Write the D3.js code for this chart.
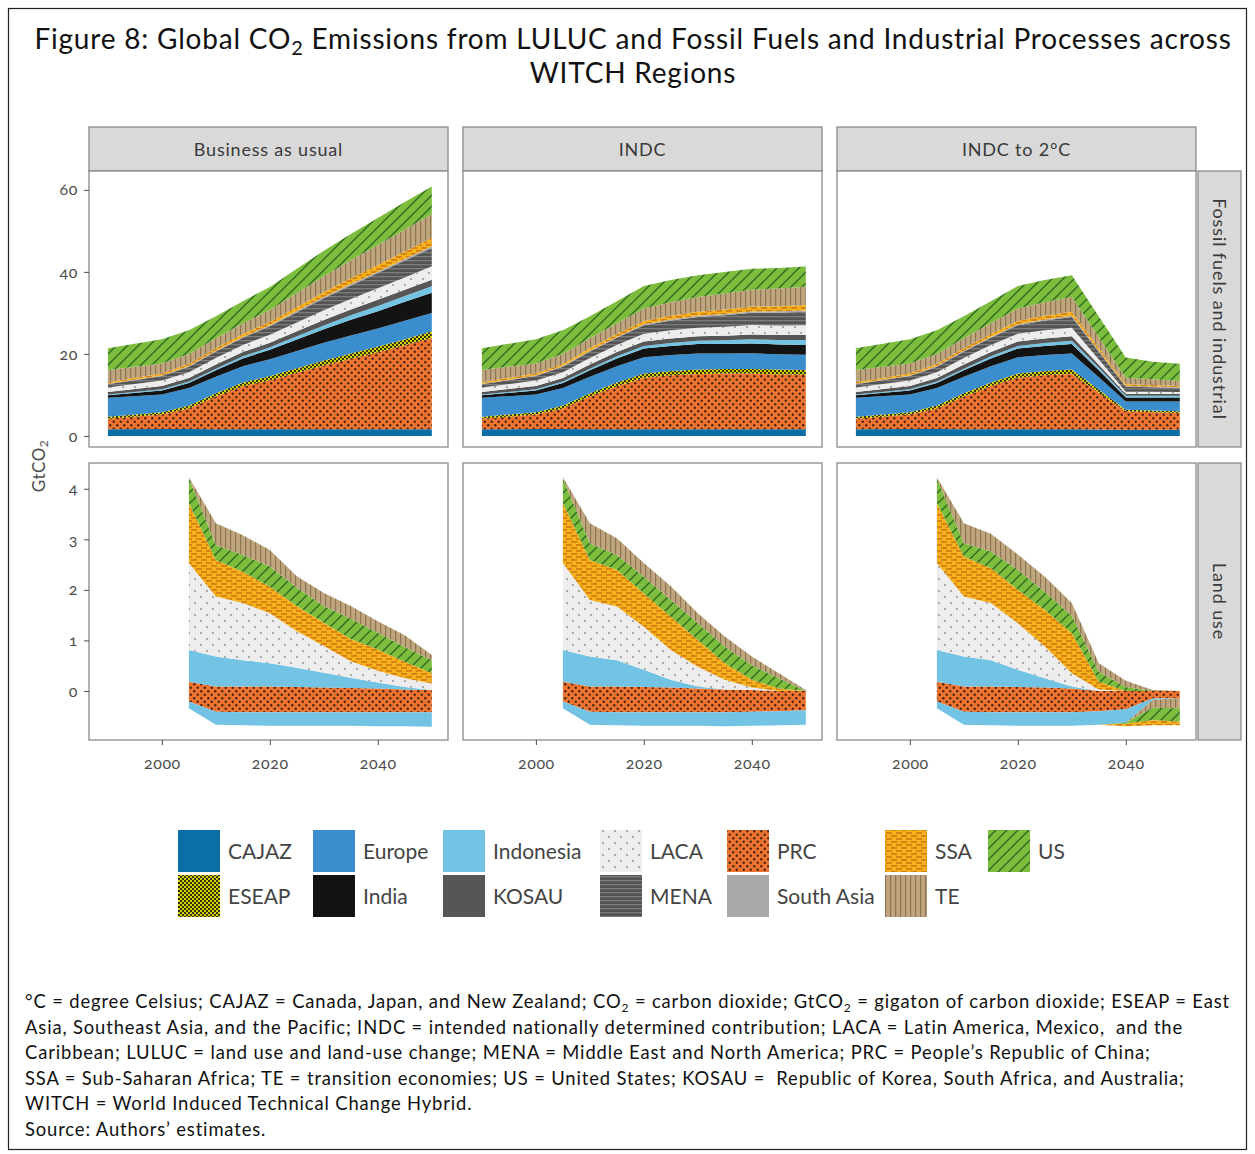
<!DOCTYPE html>
<html><head><meta charset="utf-8">
<script src="https://cdn.jsdelivr.net/npm/d3@7"></script>
<style>
body{margin:0;background:#fff}
svg{display:block}
text{font-family:Lato,"Open Sans","DejaVu Sans",sans-serif}
.num{font-variant-numeric:oldstyle-nums}
.pre{white-space:pre}
</style>
</head><body>
<svg id="c" width="1255" height="1154"></svg>
<script>
// ---------------- DATA ----------------
const years = [1990, 2000, 2005, 2010, 2015, 2020, 2025, 2030, 2035, 2040, 2045, 2050];
const luYears = [2005, 2010, 2015, 2020, 2025, 2030, 2035, 2040, 2045, 2050];
const regions = ["CAJAZ","ESEAP","Europe","India","Indonesia","KOSAU","LACA","MENA","PRC","South Asia","SSA","TE","US"];
const fossilStackOrder = ["CAJAZ","PRC","ESEAP","Europe","India","Indonesia","KOSAU","LACA","MENA","South Asia","SSA","TE","US"];
const luEmitOrder = ["PRC","Indonesia","LACA","SSA","US","TE"];
const luRemoveOrder = ["PRC","Indonesia","TE","US","SSA"];
const scenarios = ["Business as usual","INDC","INDC to 2°C"];
const rowLabels = ["Fossil fuels and industrial","Land use"];
const fossilTicks = [0, 20, 40, 60];
const landTicks = [0, 1, 2, 3, 4];
const xTicks = [2000, 2020, 2040];

// Fossil fuels and industrial, GtCO2 (one value per entry of `years`)
const ffBAU = {
  "CAJAZ":      [1.6,1.7,1.7,1.6,1.6,1.6,1.6,1.6,1.6,1.6,1.6,1.6],
  "PRC":        [2.6,3.5,5.0,8.0,10.5,12.0,13.8,15.6,17.2,18.8,20.5,22.3],
  "ESEAP":      [0.5,0.6,0.7,0.8,0.9,1.0,1.1,1.2,1.3,1.4,1.5,1.6],
  "Europe":     [4.6,4.3,4.3,4.0,4.0,4.1,4.2,4.3,4.4,4.4,4.5,4.5],
  "India":      [0.6,1.0,1.2,1.6,1.9,2.3,2.8,3.3,3.8,4.2,4.6,4.9],
  "Indonesia":  [0.2,0.3,0.35,0.4,0.5,0.6,0.8,0.9,1.1,1.3,1.4,1.6],
  "KOSAU":      [0.6,0.8,0.9,1.0,1.05,1.15,1.25,1.35,1.4,1.5,1.55,1.6],
  "LACA":       [1.1,1.3,1.4,1.6,1.7,1.9,2.1,2.4,2.6,2.8,3.0,3.25],
  "MENA":       [0.8,1.1,1.3,1.6,1.8,2.1,2.5,2.9,3.3,3.7,4.1,4.5],
  "South Asia": [0.1,0.15,0.2,0.2,0.2,0.25,0.3,0.3,0.35,0.35,0.4,0.4],
  "SSA":        [0.4,0.5,0.5,0.6,0.7,0.8,1.0,1.2,1.4,1.6,1.8,2.0],
  "TE":         [3.0,2.4,2.4,2.4,2.6,2.9,3.4,3.9,4.4,4.9,5.4,5.8],
  "US":         [5.3,5.9,5.8,5.4,5.4,5.6,5.9,6.2,6.4,6.6,6.7,6.8]
};
const ffINDC = {
  "CAJAZ":      [1.6,1.7,1.7,1.6,1.6,1.6,1.6,1.6,1.6,1.6,1.6,1.6],
  "PRC":        [2.6,3.5,5.0,8.0,10.5,12.6,13.2,13.5,13.6,13.6,13.4,13.3],
  "ESEAP":      [0.5,0.6,0.7,0.8,0.9,1.0,1.05,1.1,1.1,1.15,1.2,1.2],
  "Europe":     [4.6,4.3,4.3,4.0,4.0,4.0,3.9,3.9,3.8,3.8,3.7,3.7],
  "India":      [0.6,1.0,1.2,1.6,1.9,2.1,2.2,2.3,2.3,2.4,2.4,2.4],
  "Indonesia":  [0.2,0.3,0.35,0.4,0.5,0.6,0.7,0.8,0.9,1.0,1.1,1.2],
  "KOSAU":      [0.6,0.8,0.9,1.0,1.05,1.1,1.1,1.1,1.15,1.2,1.2,1.2],
  "LACA":       [1.1,1.3,1.4,1.6,1.7,1.9,2.0,2.1,2.2,2.3,2.3,2.4],
  "MENA":       [0.8,1.1,1.3,1.6,1.8,2.1,2.4,2.6,2.8,3.0,3.2,3.3],
  "South Asia": [0.1,0.15,0.2,0.2,0.2,0.25,0.25,0.3,0.3,0.3,0.3,0.3],
  "SSA":        [0.4,0.5,0.5,0.6,0.7,0.8,0.9,1.0,1.1,1.2,1.25,1.3],
  "TE":         [3.0,2.4,2.4,2.4,2.6,3.0,3.3,3.6,3.9,4.1,4.3,4.5],
  "US":         [5.3,5.9,5.8,5.4,5.4,5.5,5.4,5.3,5.2,5.1,5.0,4.9]
};
const ff2C = {
  "CAJAZ":      [1.6,1.7,1.7,1.6,1.6,1.6,1.6,1.6,1.55,1.5,1.5,1.5],
  "PRC":        [2.6,3.5,5.0,8.0,10.5,12.6,13.2,13.5,9.0,4.5,4.3,4.1],
  "ESEAP":      [0.5,0.6,0.7,0.8,0.9,1.0,1.05,1.1,0.75,0.4,0.4,0.4],
  "Europe":     [4.6,4.3,4.3,4.0,4.0,4.0,3.9,3.9,3.0,2.0,2.2,2.4],
  "India":      [0.6,1.0,1.2,1.6,1.9,2.1,2.2,2.3,1.7,1.0,1.0,1.0],
  "Indonesia":  [0.2,0.3,0.35,0.4,0.5,0.6,0.7,0.8,0.6,0.4,0.4,0.4],
  "KOSAU":      [0.6,0.8,0.9,1.0,1.05,1.1,1.1,1.1,0.75,0.4,0.45,0.5],
  "LACA":       [1.1,1.3,1.4,1.6,1.7,1.9,2.0,2.1,1.3,0.6,0.5,0.4],
  "MENA":       [0.8,1.1,1.3,1.6,1.8,2.1,2.4,2.6,1.9,1.2,1.1,1.0],
  "South Asia": [0.1,0.15,0.2,0.2,0.2,0.25,0.25,0.3,0.25,0.2,0.2,0.2],
  "SSA":        [0.4,0.5,0.5,0.6,0.7,0.8,0.9,1.0,0.65,0.4,0.35,0.3],
  "TE":         [3.0,2.4,2.4,2.4,2.6,3.0,3.3,3.6,2.6,1.6,1.4,1.2],
  "US":         [5.3,5.9,5.8,5.4,5.4,5.5,5.4,5.3,5.1,4.9,4.3,4.2]
};

// Land use, GtCO2 (one value per entry of `luYears`): emissions (>=0) and removals (<=0)
const luBAUemit = {
  "PRC":       [0.18,0.09,0.09,0.09,0.08,0.07,0.06,0.05,0.03,0.02],
  "Indonesia": [0.63,0.59,0.52,0.46,0.38,0.29,0.20,0.12,0.05,0.00],
  "LACA":      [1.72,1.19,1.13,0.99,0.72,0.53,0.33,0.23,0.17,0.13],
  "SSA":       [1.19,0.72,0.62,0.52,0.50,0.46,0.44,0.42,0.33,0.20],
  "US":        [0.49,0.30,0.33,0.40,0.36,0.33,0.40,0.33,0.29,0.26],
  "TE":        [0.02,0.43,0.39,0.33,0.23,0.26,0.25,0.23,0.23,0.10]
};
const luBAUremove = {
  "PRC":       [-0.21,-0.41,-0.42,-0.42,-0.42,-0.42,-0.42,-0.42,-0.42,-0.42],
  "Indonesia": [-0.13,-0.26,-0.26,-0.27,-0.27,-0.27,-0.27,-0.28,-0.28,-0.29],
  "TE":        [0,0,0,0,0,0,0,0,0,0],
  "US":        [0,0,0,0,0,0,0,0,0,0],
  "SSA":       [0,0,0,0,0,0,0,0,0,0]
};
const luINDCemit = {
  "PRC":       [0.18,0.09,0.09,0.08,0.07,0.05,0.03,0.02,0.00,0.00],
  "Indonesia": [0.63,0.59,0.52,0.34,0.15,0.04,0.00,0.00,0.00,0.00],
  "LACA":      [1.72,1.12,1.06,0.85,0.59,0.39,0.19,0.05,0.00,0.00],
  "SSA":       [1.19,0.79,0.73,0.66,0.66,0.53,0.33,0.15,0.05,0.00],
  "US":        [0.49,0.33,0.29,0.33,0.33,0.33,0.33,0.29,0.20,0.00],
  "TE":        [0.02,0.40,0.33,0.27,0.27,0.20,0.20,0.17,0.10,0.02]
};
const luINDCremove = {
  "PRC":       [-0.21,-0.41,-0.42,-0.42,-0.42,-0.42,-0.42,-0.41,-0.40,-0.38],
  "Indonesia": [-0.13,-0.26,-0.26,-0.27,-0.27,-0.27,-0.28,-0.28,-0.28,-0.29],
  "TE":        [0,0,0,0,0,0,0,0,0,0],
  "US":        [0,0,0,0,0,0,0,0,0,0],
  "SSA":       [0,0,0,0,0,0,0,0,0,0]
};
const lu2Cemit = {
  "PRC":       [0.18,0.09,0.09,0.08,0.07,0.05,0.00,0.00,0.00,0.00],
  "Indonesia": [0.63,0.59,0.52,0.34,0.18,0.04,0.00,0.00,0.00,0.00],
  "LACA":      [1.72,1.19,1.13,0.92,0.63,0.26,0.03,0.00,0.00,0.00],
  "SSA":       [1.19,0.79,0.69,0.66,0.72,0.79,0.15,0.00,0.00,0.00],
  "US":        [0.49,0.26,0.33,0.40,0.36,0.35,0.20,0.08,0.00,0.00],
  "TE":        [0.02,0.40,0.35,0.30,0.30,0.25,0.17,0.12,0.02,0.00]
};
const lu2Cremove = {
  "PRC":       [-0.21,-0.41,-0.42,-0.42,-0.42,-0.42,-0.40,-0.36,-0.15,-0.14],
  "Indonesia": [-0.13,-0.26,-0.26,-0.27,-0.27,-0.27,-0.27,-0.27,-0.03,0.00],
  "TE":        [0,0,0,0,0,0,0,0,-0.15,-0.20],
  "US":        [0,0,0,0,0,0,0,-0.02,-0.25,-0.27],
  "SSA":       [0,0,0,0,0,0,0,-0.05,-0.10,-0.07]
};

const footnotes = [
  "°C = degree Celsius; CAJAZ = Canada, Japan, and New Zealand; CO|2| = carbon dioxide; GtCO|2| = gigaton of carbon dioxide; ESEAP = East",
  "Asia, Southeast Asia, and the Pacific; INDC = intended nationally determined contribution; LACA = Latin America, Mexico,  and the",
  "Caribbean; LULUC = land use and land-use change; MENA = Middle East and North America; PRC = People’s Republic of China;",
  "SSA = Sub-Saharan Africa; TE = transition economies; US = United States; KOSAU =  Republic of Korea, South Africa, and Australia;",
  "WITCH = World Induced Technical Change Hybrid.",
  "Source: Authors’ estimates."
];

// ---------------- LAYOUT ----------------
const svg = d3.select("#c");
const defs = svg.append("defs");
const colX = [89, 463, 837];
const panelW = 359;
const rows = [{y0:171, y1:447}, {y0:463, y1:740}];
const stripTop = 127;
const rStripX = 1198, rStripW = 43;
const axisCol = "#4d4d4d", frameCol = "#8a8a8a";

// ---------------- PATTERNS ----------------
function pat(id, w, h, bg, draw) {
  const p = defs.append("pattern").attr("id", id).attr("patternUnits", "userSpaceOnUse")
    .attr("width", w).attr("height", h);
  p.append("rect").attr("width", w).attr("height", h).attr("fill", bg);
  draw(p);
}
pat("p-ESEAP", 4, 4, "#d6d20a", p => {
  p.append("rect").attr("x",0).attr("y",0).attr("width",2).attr("height",2).attr("fill","#33330a");
  p.append("rect").attr("x",2).attr("y",2).attr("width",2).attr("height",2).attr("fill","#33330a");
});
pat("p-LACA", 12, 12, "#ededed", p => {
  p.append("circle").attr("cx",3).attr("cy",3).attr("r",0.9).attr("fill","#8a8a8a");
  p.append("circle").attr("cx",9).attr("cy",9).attr("r",0.9).attr("fill","#8a8a8a");
});
pat("p-MENA", 4, 4, "#545454", p => {
  p.append("rect").attr("x",0).attr("y",0).attr("width",4).attr("height",1.3).attr("fill","#7d7d7d");
});
pat("p-PRC", 7, 7, "#ee7430", p => {
  p.append("circle").attr("cx",1.75).attr("cy",1.75).attr("r",1.2).attr("fill","#4a2410");
  p.append("circle").attr("cx",5.25).attr("cy",5.25).attr("r",1.2).attr("fill","#4a2410");
});
pat("p-SSA", 10, 6, "#f6b21c", p => {
  p.append("rect").attr("x",1).attr("y",1.3).attr("width",6).attr("height",1.3).attr("fill","#c86c0c");
  p.append("rect").attr("x",6).attr("y",4.3).attr("width",6).attr("height",1.3).attr("fill","#c86c0c");
  p.append("rect").attr("x",-4).attr("y",4.3).attr("width",6).attr("height",1.3).attr("fill","#c86c0c");
});
pat("p-TE", 5, 5, "#bfa67e", p => {
  p.append("rect").attr("x",0).attr("y",0).attr("width",1.2).attr("height",5).attr("fill","#8c7553");
});
pat("p-US", 11, 11, "#7cbd3d", p => {
  p.append("path").attr("d","M-2,2 L2,-2 M0,11 L11,0 M9,13 L13,9").attr("stroke","#2d6a20").attr("stroke-width",1.4);
});
const solid = {"CAJAZ":"#0b6ea6","Europe":"#3b8ecd","India":"#131313","Indonesia":"#73c3e4","KOSAU":"#565656","South Asia":"#a9a9a9"};
const fillOf = r => solid[r] || `url(#p-${r})`;

// ---------------- OUTER FRAME & TITLE ----------------
svg.append("rect").attr("x",8.5).attr("y",8.5).attr("width",1238).attr("height",1141)
  .attr("fill","none").attr("stroke","#222").attr("stroke-width",1.2);

function richText(sel, str, subSize, subDy) {
  const parts = str.split("|");
  parts.forEach((t, i) => {
    if (i % 2 === 1) {
      sel.append("tspan").attr("font-size", subSize).attr("dy", subDy).text(t);
    } else {
      const ts = sel.append("tspan").text(t);
      if (i > 0) ts.attr("dy", -subDy);
    }
  });
}
const title = svg.append("g").attr("fill", "#111").attr("font-size", 28).attr("letter-spacing", 0.8).attr("text-anchor","middle");
richText(title.append("text").attr("x", 633).attr("y", 49),
  "Figure 8: Global CO|2| Emissions from LULUC and Fossil Fuels and Industrial Processes across", 20, 6);
title.append("text").attr("x", 633).attr("y", 83).text("WITCH Regions");

// ---------------- SCALES ----------------
const xScales = colX.map(x0 => d3.scaleLinear().domain([1986.5, 2053]).range([x0, x0 + panelW]));
const yFossil = d3.scaleLinear().domain([-2.7, 64.6]).range([rows[0].y1, rows[0].y0]);
const yLand = d3.scaleLinear().domain([-0.97, 4.51]).range([rows[1].y1, rows[1].y0]);

// ---------------- STACKS ----------------
function signedOffset(series, order) {
  const m = series[order[0]].length;
  for (let j = 0; j < m; j++) {
    let yp = 0, yn = 0;
    for (const i of order) {
      const d = series[i][j];
      const v = d[1] - d[0];
      if (series[i].key.endsWith("-")) { d[1] = yn; yn += v; d[0] = yn; }
      else { d[0] = yp; yp += v; d[1] = yp; }
    }
  }
}
function fossilStack(ff) {
  const rowsData = years.map((y, i) => { const o = {year: y}; fossilStackOrder.forEach(r => o[r] = ff[r][i]); return o; });
  return d3.stack().keys(fossilStackOrder)(rowsData);
}
function landStack(emit, remove) {
  const keys = luEmitOrder.map(r => r + "+").concat(luRemoveOrder.map(r => r + "-"));
  const rowsData = luYears.map((y, i) => {
    const o = {year: y};
    luEmitOrder.forEach(r => o[r + "+"] = emit[r][i]);
    luRemoveOrder.forEach(r => o[r + "-"] = remove[r][i]);
    return o;
  });
  return d3.stack().keys(keys).offset(signedOffset)(rowsData);
}
const fossilSets = [ffBAU, ffINDC, ff2C];
const landSets = [[luBAUemit, luBAUremove], [luINDCemit, luINDCremove], [lu2Cemit, lu2Cremove]];

// ---------------- PANELS ----------------
scenarios.forEach((sc, c) => {
  const x = xScales[c];
  svg.append("rect").attr("x", colX[c]).attr("y", stripTop).attr("width", panelW).attr("height", rows[0].y0 - stripTop)
    .attr("fill", "#d9d9d9").attr("stroke", frameCol).attr("stroke-width", 1.3);
  svg.append("text").attr("x", colX[c] + panelW / 2).attr("y", stripTop + 29).attr("text-anchor", "middle")
    .attr("font-size", 18).attr("letter-spacing", 0.8).attr("fill", "#3a3a3a").text(sc);

  [0, 1].forEach(rw => {
    const R = rows[rw];
    const y = rw === 0 ? yFossil : yLand;
    const clipId = `clip-${c}-${rw}`;
    defs.append("clipPath").attr("id", clipId).append("rect")
      .attr("x", colX[c]).attr("y", R.y0).attr("width", panelW).attr("height", R.y1 - R.y0);
    const g = svg.append("g").attr("clip-path", `url(#${clipId})`);
    g.append("rect").attr("x", colX[c]).attr("y", R.y0).attr("width", panelW).attr("height", R.y1 - R.y0).attr("fill", "#fff");
    const series = rw === 0 ? fossilStack(fossilSets[c]) : landStack(...landSets[c]);
    const area = d3.area().x(d => x(d.data.year)).y0(d => y(d[0])).y1(d => y(d[1])).curve(d3.curveLinear);
    g.selectAll("path.band").data(series).join("path").attr("class", "band")
      .attr("d", area)
      .attr("fill", s => fillOf(s.key.replace(/[+-]$/, "")));
    svg.append("rect").attr("x", colX[c]).attr("y", R.y0).attr("width", panelW).attr("height", R.y1 - R.y0)
      .attr("fill", "none").attr("stroke", frameCol).attr("stroke-width", 1.3);
  });

  const ax = svg.append("g").attr("transform", `translate(0,${rows[1].y1})`)
    .call(d3.axisBottom(x).tickValues(xTicks).tickSize(5).tickPadding(13).tickFormat(d3.format("d")));
  ax.select(".domain").remove();
  ax.selectAll("line").attr("stroke", axisCol);
  ax.selectAll("text").attr("class", "num").attr("font-size", 16).attr("letter-spacing", 0.6)
    .attr("fill", axisCol).attr("font-family", "Lato, sans-serif");
});

[[yFossil, fossilTicks], [yLand, landTicks]].forEach(([y, ticks]) => {
  const ay = svg.append("g").attr("transform", `translate(${colX[0]},0)`)
    .call(d3.axisLeft(y).tickValues(ticks).tickSize(5).tickPadding(6).tickFormat(d3.format("d")));
  ay.select(".domain").remove();
  ay.selectAll("line").attr("stroke", axisCol);
  ay.selectAll("text").attr("class", "num").attr("font-size", 16).attr("letter-spacing", 0.6)
    .attr("fill", axisCol).attr("font-family", "Lato, sans-serif");
});

rowLabels.forEach((lab, rw) => {
  const R = rows[rw];
  svg.append("rect").attr("x", rStripX).attr("y", R.y0).attr("width", rStripW).attr("height", R.y1 - R.y0)
    .attr("fill", "#d9d9d9").attr("stroke", frameCol).attr("stroke-width", 1.3);
  svg.append("text").attr("transform", `translate(${rStripX + 15},${(R.y0 + R.y1) / 2}) rotate(90)`)
    .attr("text-anchor", "middle").attr("font-size", 18).attr("letter-spacing", 0.9).attr("fill", "#3a3a3a").text(lab);
});

const yt = svg.append("text").attr("transform", "translate(45,466) rotate(-90)").attr("text-anchor", "middle")
  .attr("font-size", 17).attr("letter-spacing", 0.5).attr("fill", axisCol);
richText(yt, "GtCO|2|", 12, 3);

// ---------------- LEGEND ----------------
const legColX = [178, 313, 443, 600, 727, 885, 988];
const legRowY = [830, 875];
const leg = svg.append("g");
regions.forEach((r, i) => {
  const col = Math.floor(i / 2), rw = i % 2;
  const gx = legColX[col], gy = legRowY[rw];
  leg.append("rect").attr("x", gx).attr("y", gy).attr("width", 42).attr("height", 42).attr("fill", fillOf(r));
  leg.append("text").attr("x", gx + 50).attr("y", gy + 29).attr("font-size", 21).attr("fill", "#444").text(r);
});

// ---------------- FOOTNOTES ----------------
const fn = svg.append("g").attr("font-size", 18.4).attr("letter-spacing", 0.86).attr("fill", "#111");
footnotes.forEach((line, i) => {
  richText(fn.append("text").attr("class", "pre").attr("x", 25).attr("y", 1008 + i * 25.6), line, 12, 4);
});
</script>
</body></html>
